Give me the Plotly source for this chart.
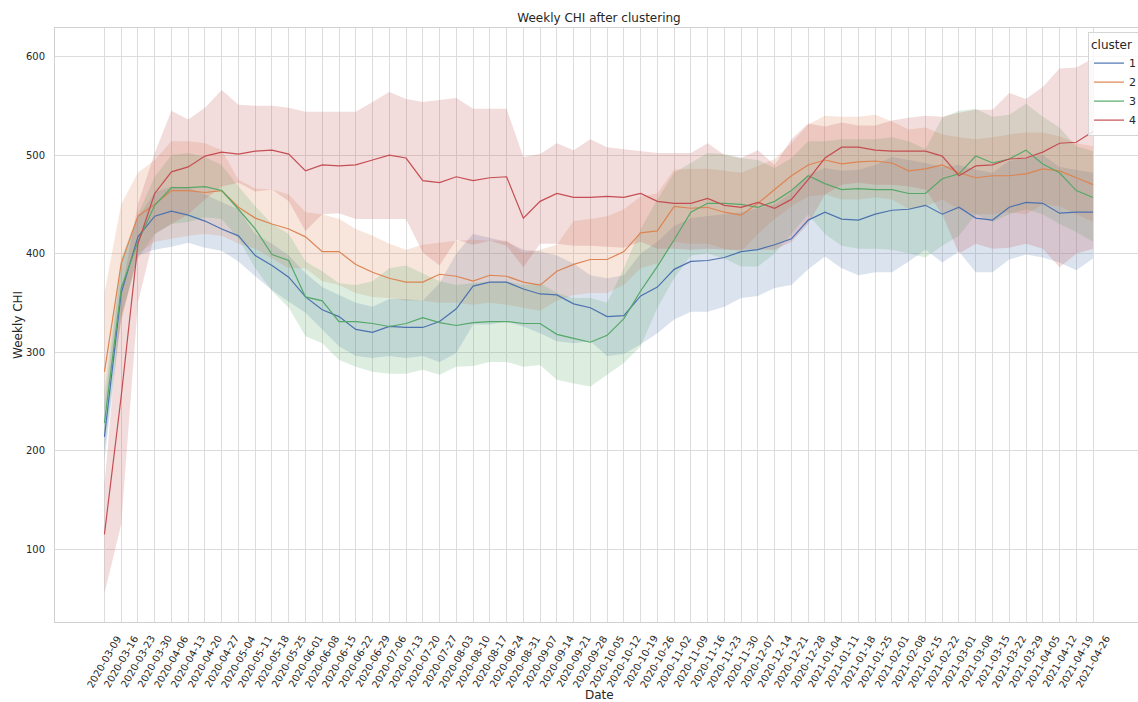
import plotly.graph_objects as go

# Weekly dates (category axis)
dates = [
    "2020-03-09", "2020-03-16", "2020-03-23", "2020-03-30", "2020-04-06", "2020-04-13",
    "2020-04-20", "2020-04-27", "2020-05-04", "2020-05-11", "2020-05-18", "2020-05-25",
    "2020-06-01", "2020-06-08", "2020-06-15", "2020-06-22", "2020-06-29", "2020-07-06",
    "2020-07-13", "2020-07-20", "2020-07-27", "2020-08-03", "2020-08-10", "2020-08-17",
    "2020-08-24", "2020-08-31", "2020-09-07", "2020-09-14", "2020-09-21", "2020-09-28",
    "2020-10-05", "2020-10-12", "2020-10-19", "2020-10-26", "2020-11-02", "2020-11-09",
    "2020-11-16", "2020-11-23", "2020-11-30", "2020-12-07", "2020-12-14", "2020-12-21",
    "2020-12-28", "2021-01-04", "2021-01-11", "2021-01-18", "2021-01-25", "2021-02-01",
    "2021-02-08", "2021-02-15", "2021-02-22", "2021-03-01", "2021-03-08", "2021-03-15",
    "2021-03-22", "2021-03-29", "2021-04-05", "2021-04-12", "2021-04-19", "2021-04-26",
]

clusters = ["1", "2", "3", "4"]

# Cluster 1: mean and confidence band
c1_mean = [214, 360, 417, 438, 443, 439, 433, 425, 418, 398, 388, 376, 356, 343, 336, 323, 320, 326, 325, 325,
           331, 344, 367, 371, 371, 364, 359, 358, 349, 345, 336, 337, 357, 366, 384, 392, 393, 396, 402, 404,
           409, 415, 434, 442, 435, 434, 440, 444, 445, 449, 440, 447, 436, 434, 447, 452, 451, 441, 442, 442]
c1_low = [190, 335, 398, 404, 407, 411, 406, 403, 392, 377, 363, 351, 340, 323, 306, 296, 294, 296, 294, 296,
          290, 299, 328, 328, 331, 326, 319, 311, 309, 311, 296, 298, 308, 319, 333, 341, 341, 346, 355, 357,
          365, 368, 384, 397, 385, 378, 381, 381, 392, 404, 391, 402, 381, 381, 394, 399, 396, 391, 383, 395]
c1_high = [245, 390, 437, 462, 468, 467, 460, 452, 445, 420, 410, 398, 380, 366, 358, 350, 346, 354, 354, 352,
           370, 400, 420, 416, 412, 404, 402, 398, 390, 378, 375, 378, 400, 412, 428, 436, 438, 440, 442, 446,
           450, 462, 480, 487, 484, 485, 490, 498, 495, 492, 488, 490, 485, 482, 494, 497, 500, 488, 485, 482]

# Cluster 2
c2_mean = [280, 390, 438, 450, 464, 464, 462, 464, 447, 436, 430, 425, 417, 402, 402, 389, 381, 375, 371, 371,
           379, 377, 372, 378, 377, 371, 368, 382, 389, 394, 394, 402, 421, 423, 448, 446, 447, 442, 439, 451,
           465, 479, 490, 495, 491, 493, 494, 492, 484, 486, 490, 482, 477, 479, 479, 481, 486, 484, 477, 470]
c2_low = [240, 330, 400, 412, 415, 418, 420, 418, 410, 405, 395, 385, 385, 372, 368, 360, 356, 355, 352, 352,
          350, 350, 348, 350, 348, 345, 342, 352, 358, 360, 360, 368, 385, 390, 412, 410, 410, 405, 402, 420,
          435, 448, 458, 460, 455, 455, 457, 455, 445, 448, 455, 445, 440, 440, 442, 440, 450, 448, 440, 432]
c2_high = [360, 450, 482, 495, 514, 514, 512, 505, 475, 466, 465, 460, 442, 440, 435, 425, 418, 410, 404, 409,
           411, 413, 414, 413, 413, 401, 404, 409, 433, 435, 438, 445, 458, 461, 485, 486, 486, 484, 482, 489,
           496, 512, 531, 540, 539, 539, 541, 534, 526, 528, 521, 518, 516, 518, 521, 523, 523, 519, 512, 509]

# Cluster 3
c3_mean = [228, 365, 412, 449, 467, 467, 468, 464, 445, 425, 399, 393, 356, 352, 331, 331, 329, 326, 329, 335,
           330, 327, 330, 331, 331, 329, 329, 318, 314, 310, 317, 334, 362, 387, 414, 442, 451, 451, 450, 447,
           453, 464, 479, 471, 465, 466, 465, 465, 461, 461, 476, 481, 499, 492, 496, 505, 491, 482, 464, 457]
c3_low = [200, 335, 395, 420, 430, 432, 437, 435, 415, 385, 362, 345, 316, 309, 292, 285, 280, 278, 278, 282,
          277, 285, 286, 290, 290, 285, 287, 272, 268, 265, 277, 289, 306, 345, 375, 398, 400, 395, 387, 387,
          400, 420, 440, 420, 408, 405, 405, 404, 400, 396, 408, 418, 440, 432, 440, 445, 440, 430, 422, 412]
c3_high = [260, 395, 440, 478, 500, 502, 498, 490, 468, 448, 430, 420, 392, 382, 370, 368, 372, 385, 388, 380,
           372, 368, 370, 372, 372, 368, 370, 360, 355, 355, 350, 385, 425, 455, 482, 492, 502, 501, 497, 495,
           487, 497, 514, 514, 516, 516, 516, 518, 514, 506, 538, 545, 547, 539, 541, 552, 539, 528, 509, 504]

# Cluster 4
c4_mean = [115, 255, 410, 461, 483, 488, 499, 503, 501, 504, 505, 501, 484, 490, 489, 490, 495, 500, 497, 474,
           472, 478, 474, 477, 478, 436, 453, 461, 457, 457, 458, 457, 461, 453, 451, 451, 456, 449, 447, 452,
           446, 455, 475, 497, 508, 508, 505, 504, 504, 504, 499, 479, 489, 490, 496, 497, 503, 512, 513, 524]
c4_low = [55, 125, 350, 420, 430, 440, 455, 468, 472, 463, 465, 453, 423, 440, 441, 435, 435, 435, 435, 401,
          388, 414, 409, 413, 408, 386, 410, 410, 408, 408, 407, 406, 412, 405, 405, 404, 405, 404, 404, 404,
          404, 412, 430, 460, 470, 472, 470, 470, 468, 465, 440, 400, 410, 405, 406, 410, 405, 386, 400, 405]
c4_high = [165, 360, 450, 502, 545, 536, 548, 566, 551, 550, 550, 548, 544, 544, 544, 544, 554, 564, 557, 554,
           556, 558, 547, 547, 547, 498, 501, 512, 505, 516, 508, 506, 504, 502, 502, 502, 512, 500, 497, 505,
           490, 516, 532, 529, 533, 530, 530, 535, 538, 540, 539, 543, 546, 546, 563, 557, 569, 588, 589, 598]

y_ticks = [100, 200, 300, 400, 500, 600]

means = [c1_mean, c2_mean, c3_mean, c4_mean]
lows = [c1_low, c2_low, c3_low, c4_low]
highs = [c1_high, c2_high, c3_high, c4_high]
colors = ["#4C72B0", "#DD8452", "#55A868", "#C44E52"]
band_colors = ["rgba(76,114,176,0.2)", "rgba(221,132,82,0.2)",
               "rgba(85,168,104,0.2)", "rgba(196,78,82,0.2)"]

FONT = "DejaVu Sans"
TXT = "#262626"

fig = go.Figure()

# Confidence bands first, so every line sits on top of them
for low, high, bc in zip(lows, highs, band_colors):
    fig.add_trace(go.Scatter(
        x=dates + dates[::-1],
        y=high + low[::-1],
        fill="toself", fillcolor=bc, mode="lines",
        line=dict(width=0, color=bc),
        hoverinfo="skip", showlegend=False,
    ))

for name, mean, col in zip(clusters, means, colors):
    fig.add_trace(go.Scatter(
        x=dates, y=mean, mode="lines", name=name,
        line=dict(color=col, width=1.2),
    ))

# Plot area: left 55px, top 28px, bottom 622px in a 1138x702 page
L, T, B = 55, 28, 80
W, H = 1138, 702
plot_h = H - T - B
plot_w = W - L


def py(px):
    """Convert a page y pixel into paper coordinates."""
    return (H - B - px) / plot_h


def px_x(px):
    return (px - L) / plot_w


annotations = []
for d in dates:
    annotations.append(dict(
        x=d, xref="x", y=py(631), yref="paper",
        text=d, textangle=-60, showarrow=False,
        xanchor="center", yanchor="top",
        font=dict(family=FONT, size=10, color=TXT),
    ))

annotations.append(dict(
    x=px_x(599), xref="paper", y=py(695), yref="paper",
    text="Date", showarrow=False, xanchor="center", yanchor="middle",
    font=dict(family=FONT, size=12, color=TXT),
))
annotations.append(dict(
    x=px_x(18), xref="paper", y=0.5, yref="paper",
    text="Weekly CHI", textangle=-90, showarrow=False,
    xanchor="center", yanchor="middle",
    font=dict(family=FONT, size=12, color=TXT),
))

fig.update_layout(
    width=W, height=H,
    margin=dict(l=L, r=0, t=T, b=B, autoexpand=False),
    paper_bgcolor="white", plot_bgcolor="white",
    font=dict(family=FONT, size=10, color=TXT),
    title=dict(
        text="Weekly CHI after clustering",
        x=px_x(599), xref="paper", xanchor="center",
        y=1 - 18 / H, yref="container", yanchor="middle",
        font=dict(family=FONT, size=12, color=TXT),
    ),
    showlegend=True,
    legend=dict(
        title=dict(text="cluster", font=dict(family=FONT, size=12, color=TXT)),
        x=px_x(1088), y=py(32), xanchor="left", yanchor="top",
        bgcolor="rgba(255,255,255,0.8)", bordercolor="#d5d5d5", borderwidth=1,
        font=dict(family=FONT, size=11, color=TXT),
        itemwidth=30, tracegroupgap=0,
    ),
    annotations=annotations,
)

fig.update_xaxes(
    type="category",
    range=[-2.95, -2.95 + plot_w / 16.756],
    tickvals=dates, showticklabels=False,
    showgrid=True, gridcolor="#dcdcdc", gridwidth=1,
    showline=True, linecolor="#d0d0d0", linewidth=1, mirror=True,
    zeroline=False, ticks="",
)
fig.update_yaxes(
    range=[26, 629],
    tickvals=y_ticks,
    showgrid=True, gridcolor="#dcdcdc", gridwidth=1,
    showline=True, linecolor="#d0d0d0", linewidth=1, mirror=False,
    zeroline=False, ticks="", ticklabelstandoff=7,
    tickfont=dict(family=FONT, size=10, color=TXT),
)

fig.write_html("out.html")
